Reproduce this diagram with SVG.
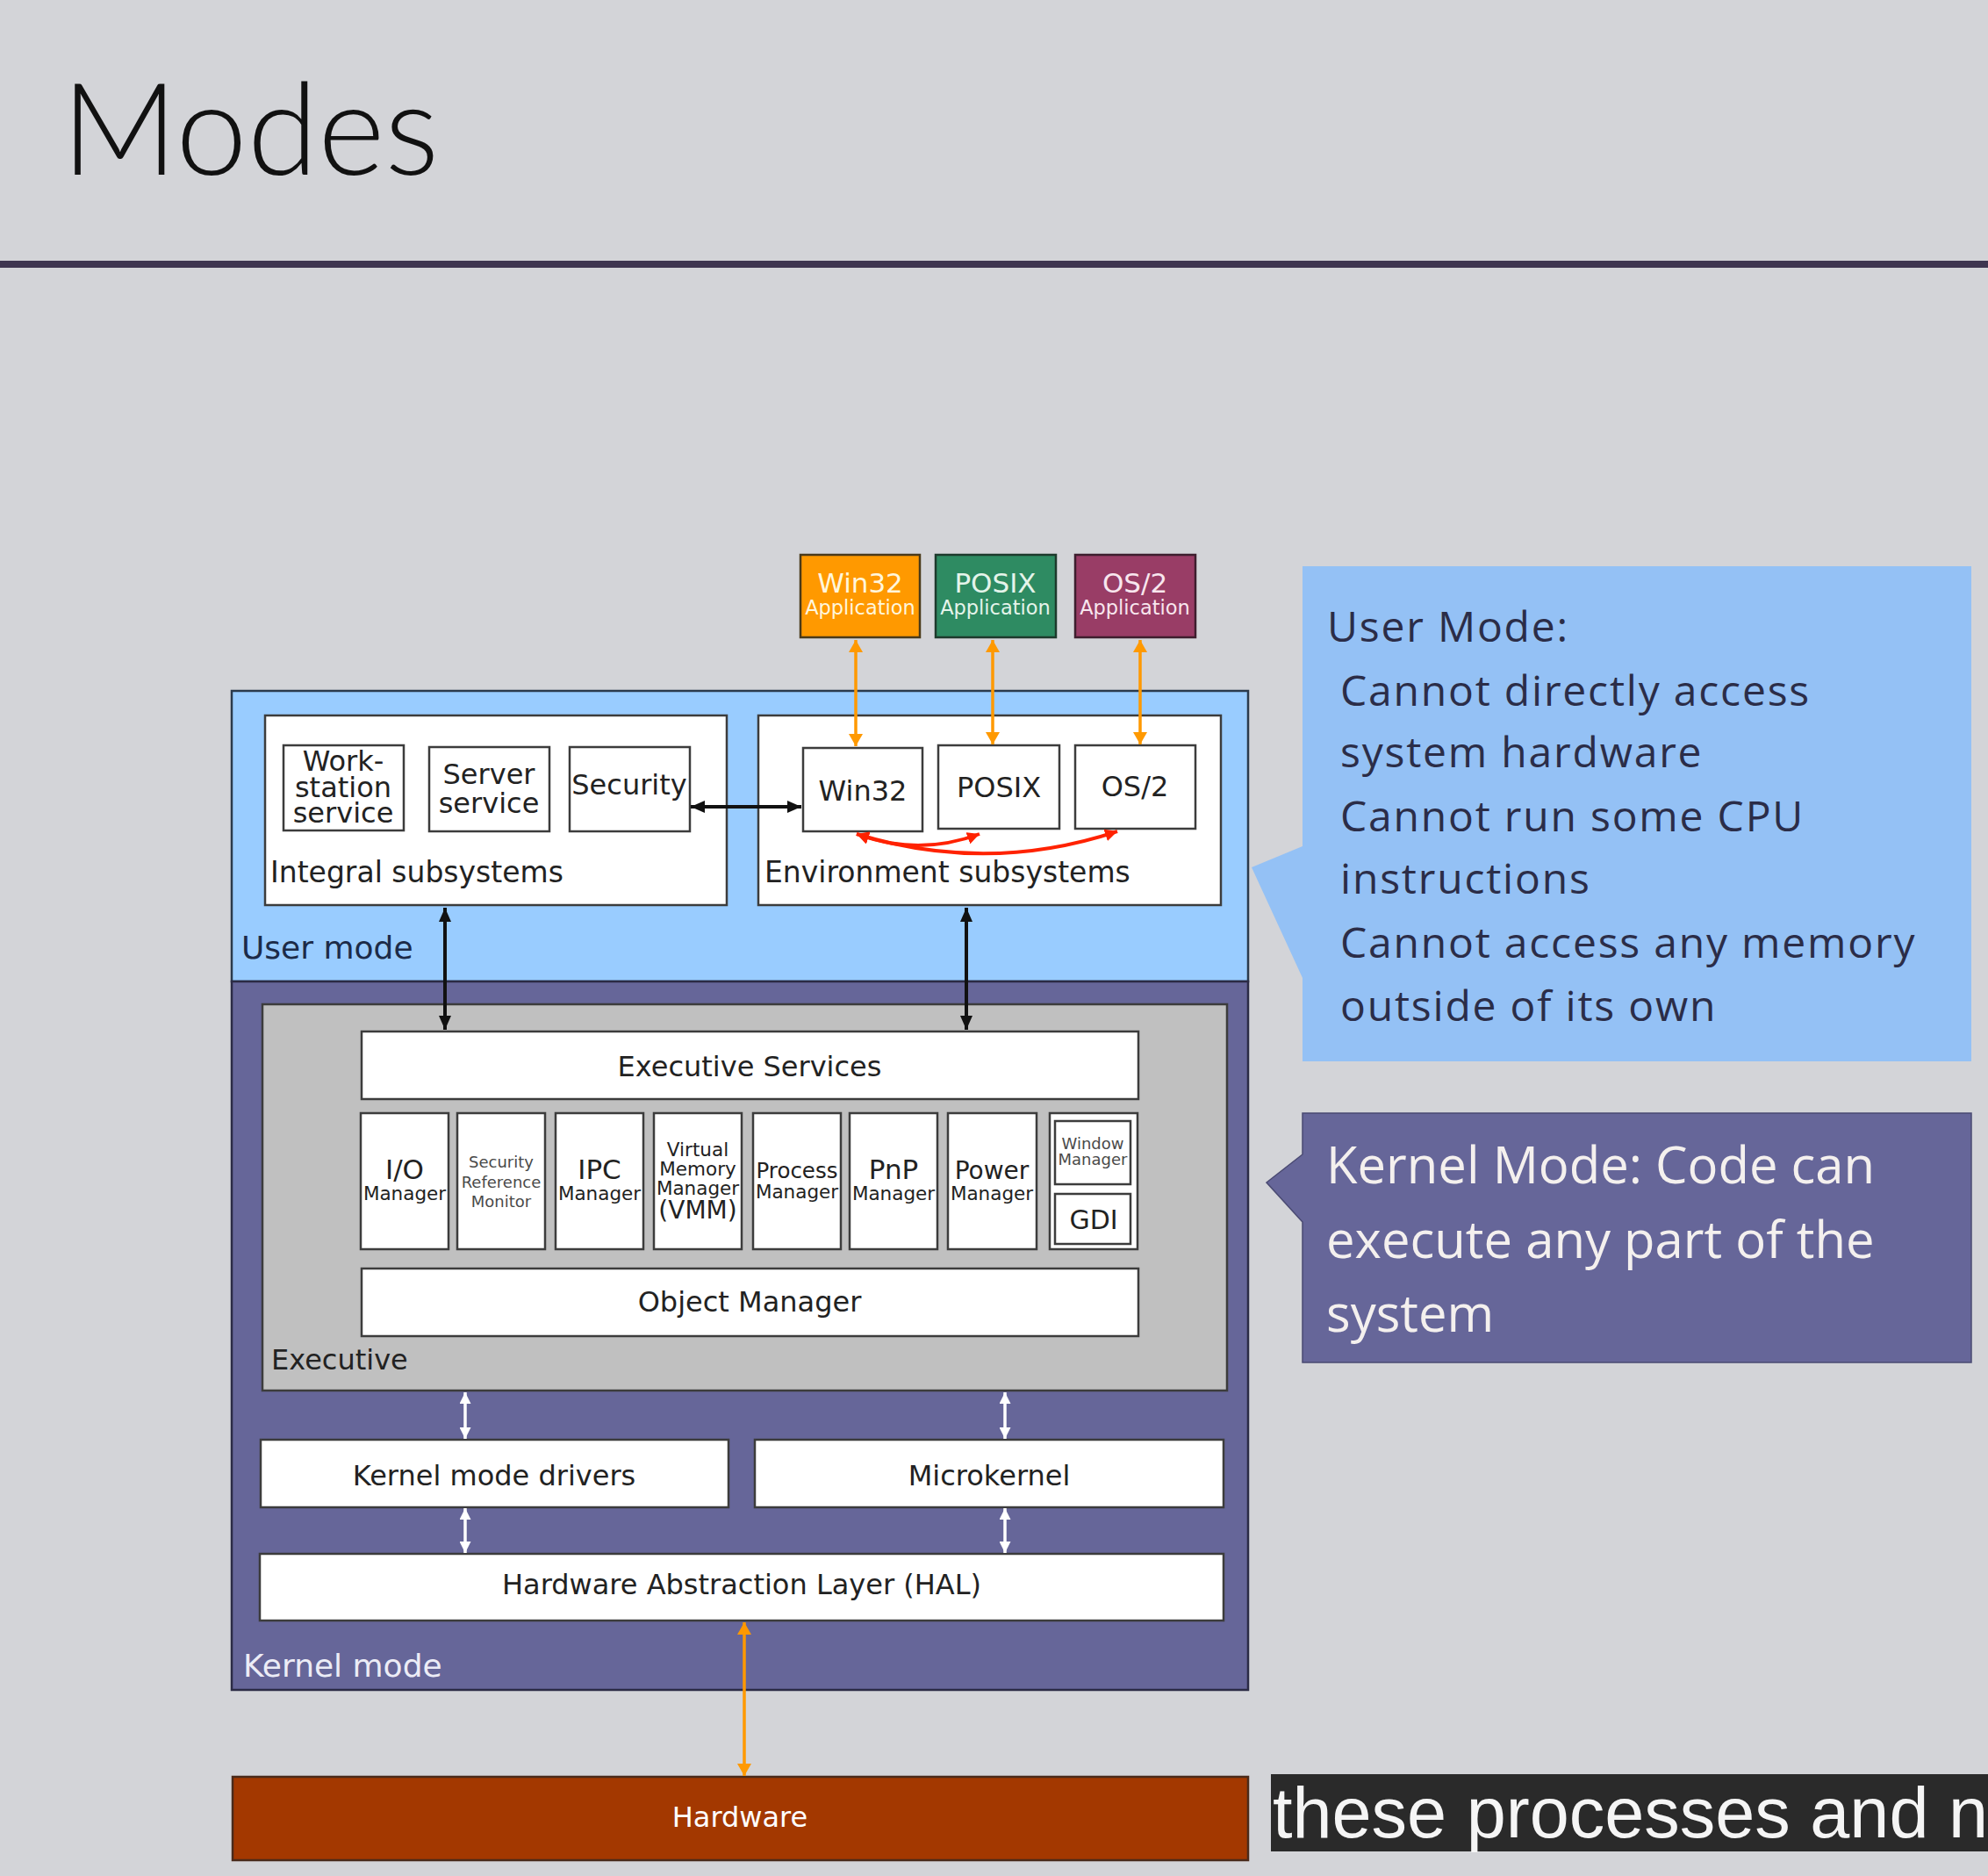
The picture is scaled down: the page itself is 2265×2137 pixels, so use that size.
<svg xmlns="http://www.w3.org/2000/svg" width="2265" height="2137" viewBox="0 0 2265 2137">
<defs>
<style>
.bx{fill:#ffffff;stroke:#3c3c3c;stroke-width:2.5}
.t{font-family:"DejaVu Sans","Liberation Sans",sans-serif;fill:#222222}
.c{text-anchor:middle}
.lbl{font-size:33px}
.big{font-size:32px}
.mgr{font-size:21.5px}
.sm{font-size:18px;fill:#4a4a4a}
.app{font-family:"DejaVu Sans","Liberation Sans",sans-serif;text-anchor:middle}
.co{font-family:"Open Sans","Noto Sans","Liberation Sans",sans-serif}
.blk{stroke:#111111;stroke-width:4;fill:none}
.org{stroke:#ff9900;stroke-width:3.5;fill:none}
.wht{stroke:#ffffff;stroke-width:3.5;fill:none}
.red{stroke:#ff2200;stroke-width:4;fill:none}
</style>
<marker id="mb" markerUnits="userSpaceOnUse" markerWidth="16" markerHeight="14" viewBox="0 0 16 14" refX="16" refY="7" orient="auto-start-reverse"><path d="M0,0 L16,7 L0,14 z" fill="#111111"/></marker>
<marker id="mo" markerUnits="userSpaceOnUse" markerWidth="14" markerHeight="16" viewBox="0 0 14 16" refX="14" refY="8" orient="auto-start-reverse"><path d="M0,0 L14,8 L0,16 z" fill="#ff9900"/></marker>
<marker id="mw" markerUnits="userSpaceOnUse" markerWidth="13" markerHeight="13" viewBox="0 0 13 13" refX="13" refY="6.5" orient="auto-start-reverse"><path d="M0,0 L13,6.5 L0,13 z" fill="#ffffff"/></marker>
<marker id="mr" markerUnits="userSpaceOnUse" markerWidth="14" markerHeight="14" viewBox="0 0 14 14" refX="14" refY="7" orient="auto-start-reverse"><path d="M0,0 L14,7 L0,14 z" fill="#ff2200"/></marker>
</defs>

<rect x="0" y="0" width="2265" height="2137" fill="#d3d4d8"/>

<g id="title">
<text x="70" y="199" font-family="Lato,'Open Sans','Liberation Sans',sans-serif" font-weight="300" font-size="146" fill="#111111">Modes</text>
<rect x="0" y="297" width="2265" height="8" fill="#3e3550"/>
</g>

<g id="user-mode">
<rect x="264" y="787" width="1158" height="331" fill="#99ccff" stroke="#2b3a4c" stroke-width="2.5"/>
<text class="t" x="275" y="1092" font-size="36" fill="#1c2b48" style="fill:#1c2b48">User mode</text>
</g>

<g id="kernel-mode">
<rect x="264" y="1118" width="1158" height="807" fill="#666699" stroke="#2b2b45" stroke-width="2.5"/>
<text class="t" x="277" y="1910" font-size="36" style="fill:#ececf6">Kernel mode</text>
</g>

<g id="integral-subsystems">
<rect class="bx" x="302" y="815" width="526" height="216"/>
<text class="t lbl" x="308" y="1005">Integral subsystems</text>
</g>
<g id="workstation-service">
<rect class="bx" x="323" y="849" width="137" height="97"/>
<text class="t big c" x="391" y="878">Work-</text>
<text class="t big c" x="391" y="908">station</text>
<text class="t big c" x="391" y="937">service</text>
</g>
<g id="server-service">
<rect class="bx" x="489" y="851" width="137" height="96"/>
<text class="t big c" x="557" y="893">Server</text>
<text class="t big c" x="557" y="926">service</text>
</g>
<g id="security">
<rect class="bx" x="649" y="851" width="137" height="96"/>
<text class="t big c" x="717" y="905">Security</text>
</g>

<g id="environment-subsystems">
<rect class="bx" x="864" y="815" width="527" height="216"/>
<text class="t lbl" x="871" y="1005">Environment subsystems</text>
</g>
<g id="win32-env">
<rect class="bx" x="915" y="852" width="136" height="95"/>
<text class="t big c" x="983" y="912">Win32</text>
</g>
<g id="posix-env">
<rect class="bx" x="1069" y="849" width="138" height="95"/>
<text class="t big c" x="1138" y="908">POSIX</text>
</g>
<g id="os2-env">
<rect class="bx" x="1225" y="849" width="137" height="95"/>
<text class="t big c" x="1293" y="907">OS/2</text>
</g>

<g id="win32-app">
<rect x="912" y="632" width="136" height="94" fill="#ff9900" stroke="#4a3a1a" stroke-width="2.5"/>
<text class="app" x="980" y="675" font-size="31" fill="#fff6dc">Win32</text>
<text class="app" x="980" y="700" font-size="22.5" fill="#fff6dc">Application</text>
</g>
<g id="posix-app">
<rect x="1066" y="632" width="137" height="94" fill="#2e8b62" stroke="#1d3a2c" stroke-width="2.5"/>
<text class="app" x="1134" y="675" font-size="31" fill="#e4f4ea">POSIX</text>
<text class="app" x="1134" y="700" font-size="22.5" fill="#e4f4ea">Application</text>
</g>
<g id="os2-app">
<rect x="1225" y="632" width="137" height="94" fill="#993d66" stroke="#3e1e2e" stroke-width="2.5"/>
<text class="app" x="1293" y="675" font-size="31" fill="#f8e6ee">OS/2</text>
<text class="app" x="1293" y="700" font-size="22.5" fill="#f8e6ee">Application</text>
</g>

<g id="executive">
<rect x="299" y="1144" width="1099" height="440" fill="#c0c0c0" stroke="#3c3c3c" stroke-width="2.5"/>
<text class="t" x="309" y="1560" font-size="32">Executive</text>
</g>
<g id="executive-services">
<rect class="bx" x="412" y="1175" width="885" height="77"/>
<text class="t big c" x="854" y="1226">Executive Services</text>
</g>
<g id="io-manager">
<rect class="bx" x="411" y="1268" width="100" height="155"/>
<text class="t c" x="461" y="1343" font-size="31">I/O</text>
<text class="t mgr c" x="461" y="1367">Manager</text>
</g>
<g id="security-reference-monitor">
<rect class="bx" x="521" y="1268" width="100" height="155"/>
<text class="t sm c" x="571" y="1330">Security</text>
<text class="t sm c" x="571" y="1353">Reference</text>
<text class="t sm c" x="571" y="1375">Monitor</text>
</g>
<g id="ipc-manager">
<rect class="bx" x="633" y="1268" width="100" height="155"/>
<text class="t c" x="683" y="1343" font-size="31">IPC</text>
<text class="t mgr c" x="683" y="1367">Manager</text>
</g>
<g id="vmm">
<rect class="bx" x="745" y="1268" width="100" height="155"/>
<text class="t c" x="795" y="1317" font-size="21.5">Virtual</text>
<text class="t c" x="795" y="1339" font-size="21.5">Memory</text>
<text class="t c" x="795" y="1361" font-size="21.5">Manager</text>
<text class="t c" x="795" y="1388" font-size="28">(VMM)</text>
</g>
<g id="process-manager">
<rect class="bx" x="858" y="1268" width="100" height="155"/>
<text class="t c" x="908" y="1342" font-size="24.5">Process</text>
<text class="t mgr c" x="908" y="1365">Manager</text>
</g>
<g id="pnp-manager">
<rect class="bx" x="968" y="1268" width="100" height="155"/>
<text class="t c" x="1018" y="1343" font-size="31">PnP</text>
<text class="t mgr c" x="1018" y="1367">Manager</text>
</g>
<g id="power-manager">
<rect class="bx" x="1080" y="1268" width="101" height="155"/>
<text class="t c" x="1130" y="1343" font-size="28">Power</text>
<text class="t mgr c" x="1130" y="1367">Manager</text>
</g>
<g id="window-gdi">
<rect class="bx" x="1196" y="1268" width="100" height="155"/>
<rect class="bx" x="1202" y="1277" width="86" height="72"/>
<text class="t sm c" x="1245" y="1309">Window</text>
<text class="t sm c" x="1245" y="1327">Manager</text>
<rect class="bx" x="1202" y="1360" width="86" height="57"/>
<text class="t c" x="1246" y="1400" font-size="30">GDI</text>
</g>
<g id="object-manager">
<rect class="bx" x="412" y="1445" width="885" height="77"/>
<text class="t big c" x="854" y="1494">Object Manager</text>
</g>

<g id="kernel-mode-drivers">
<rect class="bx" x="297" y="1640" width="533" height="77"/>
<text class="t big c" x="563" y="1692">Kernel mode drivers</text>
</g>
<g id="microkernel">
<rect class="bx" x="860" y="1640" width="534" height="77"/>
<text class="t big c" x="1127" y="1692">Microkernel</text>
</g>
<g id="hal">
<rect class="bx" x="296" y="1770" width="1098" height="76"/>
<text class="t big c" x="845" y="1816">Hardware Abstraction Layer (HAL)</text>
</g>
<g id="hardware">
<rect x="265" y="2024" width="1157" height="95" fill="#a33800" stroke="#4a2a1a" stroke-width="2.5"/>
<text class="t big c" x="843" y="2081" style="fill:#ffffff">Hardware</text>
</g>

<g id="connectors">
<line class="blk" x1="787" y1="919" x2="913" y2="919" marker-start="url(#mb)" marker-end="url(#mb)"/>
<line class="blk" x1="507" y1="1034" x2="507" y2="1173" marker-start="url(#mb)" marker-end="url(#mb)"/>
<line class="blk" x1="1101" y1="1034" x2="1101" y2="1173" marker-start="url(#mb)" marker-end="url(#mb)"/>
<line class="org" x1="975" y1="729" x2="975" y2="850" marker-start="url(#mo)" marker-end="url(#mo)"/>
<line class="org" x1="1131" y1="729" x2="1131" y2="848" marker-start="url(#mo)" marker-end="url(#mo)"/>
<line class="org" x1="1299" y1="729" x2="1299" y2="848" marker-start="url(#mo)" marker-end="url(#mo)"/>
<line class="org" x1="848" y1="1848" x2="848" y2="2023" marker-start="url(#mo)" marker-end="url(#mo)"/>
<line class="wht" x1="530" y1="1586" x2="530" y2="1639" marker-start="url(#mw)" marker-end="url(#mw)"/>
<line class="wht" x1="1145" y1="1586" x2="1145" y2="1639" marker-start="url(#mw)" marker-end="url(#mw)"/>
<line class="wht" x1="530" y1="1718" x2="530" y2="1769" marker-start="url(#mw)" marker-end="url(#mw)"/>
<line class="wht" x1="1145" y1="1718" x2="1145" y2="1769" marker-start="url(#mw)" marker-end="url(#mw)"/>
<path class="red" d="M976,950 Q1046,976 1116,950" marker-start="url(#mr)" marker-end="url(#mr)"/>
<path class="red" d="M976,950 Q1125,996 1273,947" marker-start="url(#mr)" marker-end="url(#mr)"/>
</g>

<g id="user-mode-callout">
<path d="M1484,645 H2246 V1209 H1484 V1114 L1426,988 L1484,964 Z" fill="#94c1f5"/>
<g class="co" font-size="48" fill="#2b2d48" letter-spacing="1.8">
<text x="1512" y="731">User Mode:</text>
<text x="1527" y="804">Cannot directly access</text>
<text x="1527" y="874">system hardware</text>
<text x="1527" y="947">Cannot run some CPU</text>
<text x="1527" y="1018">instructions</text>
<text x="1527" y="1091">Cannot access any memory</text>
<text x="1527" y="1163">outside of its own</text>
</g>
</g>

<g id="kernel-mode-callout">
<path d="M1484,1268 H2246 V1552 H1484 V1392 L1443,1347 L1484,1315 Z" fill="#666699" stroke="#4a4a72" stroke-width="1.5"/>
<g class="co" font-size="58" fill="#f4f0ee">
<text x="1511" y="1348">Kernel Mode: Code can</text>
<text x="1511" y="1433">execute any part of the</text>
<text x="1511" y="1517">system</text>
</g>
</g>

<g id="caption">
<rect x="1448" y="2021" width="817" height="88" fill="#2a2a2a"/>
<text x="1450" y="2093" font-family="'Liberation Sans',Arial,sans-serif" font-size="81" fill="#f5f5f5">these processes and n</text>
</g>
</svg>
